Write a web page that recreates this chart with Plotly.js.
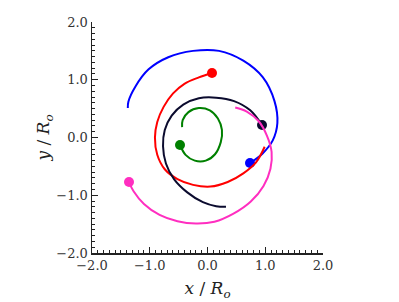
<!DOCTYPE html>
<html>
<head>
<meta charset="utf-8">
<script src="https://cdn.plot.ly/plotly-3.0.1.min.js"></script>
<style>html,body{margin:0;padding:0;background:#fff;}</style>
</head>
<body>
<div id="chart" style="width:399px;height:302px;"></div>
<script>
// Trajectories (first point = dot position)
const blueX = [0.736, 0.95, 1.13, 1.21, 1.16, 0.96, 0.62, 0.20, -0.25, -0.68, -1.02, -1.25, -1.37, -1.38];
const blueY = [-0.442, -0.28, -0.05, 0.25, 0.63, 1.04, 1.33, 1.50, 1.50, 1.39, 1.18, 0.88, 0.62, 0.51];

const redX = [0.078, -0.15, -0.40, -0.60, -0.76, -0.87, -0.91, -0.87, -0.74, -0.52, -0.25, 0.05, 0.35, 0.62, 0.84, 0.99];
const redY = [1.117, 1.04, 0.93, 0.76, 0.53, 0.27, 0.0, -0.30, -0.55, -0.72, -0.82, -0.85, -0.77, -0.62, -0.43, -0.16];

const blackX = [0.944, 0.74, 0.46, 0.15, -0.15, -0.42, -0.62, -0.74, -0.77, -0.72, -0.58, -0.35, -0.08, 0.15, 0.32];
const blackY = [0.216, 0.47, 0.63, 0.69, 0.68, 0.57, 0.38, 0.13, -0.15, -0.45, -0.72, -0.95, -1.12, -1.19, -1.20];

const greenX = [-0.476, -0.38, -0.22, -0.03, 0.13, 0.23, 0.25, 0.18, 0.04, -0.15, -0.33, -0.43, -0.44];
const greenY = [-0.13, -0.30, -0.40, -0.40, -0.29, -0.08, 0.13, 0.33, 0.47, 0.51, 0.44, 0.30, 0.18];

const pinkX = [-1.359, -1.28, -1.10, -0.83, -0.52, -0.20, 0.12, 0.45, 0.75, 0.97, 1.09, 1.11, 1.03, 0.88, 0.68, 0.48];
const pinkY = [-0.771, -0.93, -1.15, -1.34, -1.45, -1.49, -1.46, -1.32, -1.11, -0.84, -0.54, -0.25, 0.03, 0.29, 0.45, 0.52];

const tickVals = [-2, -1, 0, 1, 2];
const tickText = ["\u22122.0", "\u22121.0", "0.0", "1.0", "2.0"];

const series = [
  {x: blueX, y: blueY, c: "#0000ff"},
  {x: redX, y: redY, c: "#ff0000"},
  {x: blackX, y: blackY, c: "#0b0b2e"},
  {x: greenX, y: greenY, c: "#008000"},
  {x: pinkX, y: pinkY, c: "#ff2ec0"}
];

const traces = [];
series.forEach(s => {
  traces.push({x: s.x, y: s.y, mode: "lines", line: {color: s.c, width: 2, shape: "spline", smoothing: 1}, hoverinfo: "skip"});
  traces.push({x: [s.x[0]], y: [s.y[0]], mode: "markers", marker: {color: s.c, size: 10}, hoverinfo: "skip"});
});

const font = {family: "DejaVu Serif, Liberation Serif, serif", size: 13, color: "#333"};
const titleFont = {family: "DejaVu Serif, serif", size: 17, color: "#222"};

const axisCommon = {
  range: [-2, 2],
  tickvals: tickVals,
  ticktext: tickText,
  showgrid: false,
  zeroline: false,
  showline: true,
  linecolor: "#222",
  linewidth: 1.5,
  mirror: false,
  ticks: "inside",
  ticklen: 6,
  tickwidth: 1.2,
  tickcolor: "#222",
  minor: {dtick: 0.1, ticks: "inside", ticklen: 3, tickcolor: "#222", tickwidth: 1, showgrid: false},
  tickfont: font,
  fixedrange: true
};

const layout = {
  width: 399,
  height: 302,
  margin: {l: 92, r: 76, t: 22, b: 49},
  showlegend: false,
  paper_bgcolor: "#fff",
  plot_bgcolor: "#fff",
  font: font,
  xaxis: Object.assign({}, axisCommon, {
    title: {text: "<i>x</i> / <i>R<sub>o</sub></i>", font: titleFont, standoff: 10}
  }),
  yaxis: Object.assign({}, axisCommon, {
    title: {text: "<i>y</i> / <i>R<sub>o</sub></i>", font: titleFont, standoff: 2}
  })
};

Plotly.newPlot("chart", traces, layout, {displayModeBar: false, staticPlot: true});
</script>
</body>
</html>
